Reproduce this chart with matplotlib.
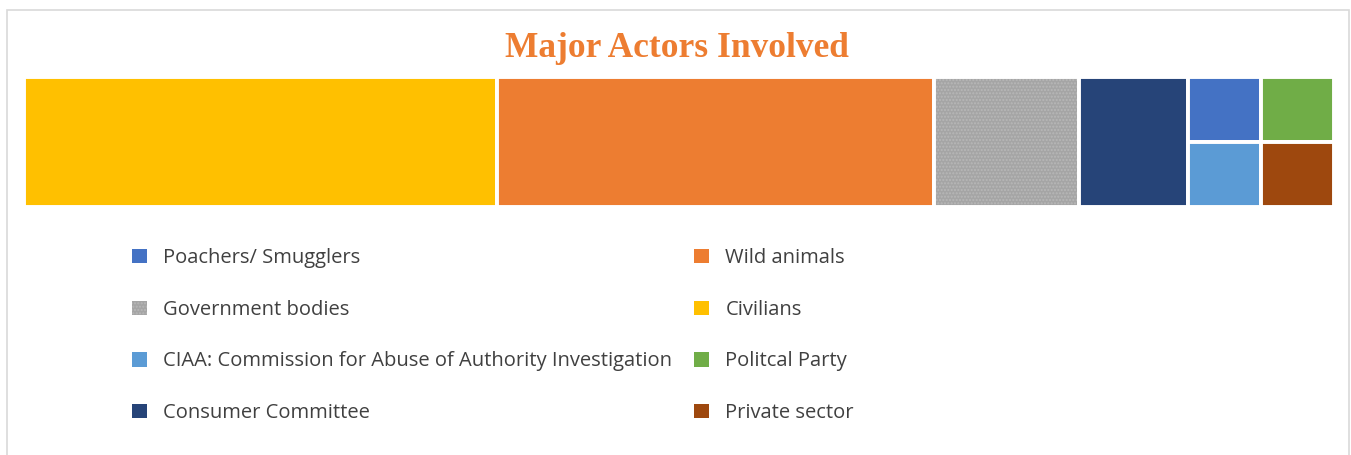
import matplotlib
matplotlib.use('Agg')
import matplotlib.pyplot as plt
from matplotlib.patches import Rectangle, Patch

# Actors and how often each one shows up
actors = ['Poachers/ Smugglers', 'Wild animals', 'Government bodies', 'Civilians',
          'CIAA: Commission for Abuse of Authority Investigation', 'Politcal Party',
          'Consumer Committee', 'Private sector']
counts = [1, 12, 4, 13, 1, 1, 3, 1]
colors = ['#4472C4', '#ED7D31', '#A5A5A5', '#FFC000',
          '#5B9BD5', '#70AD47', '#264478', '#9E480E']
hatches = ['', '', '.....', '', '', '', '', '']


def worst(row, side):
    s = sum(row)
    return max(max(side * side * r / (s * s), (s * s) / (side * side * r)) for r in row)


def squarify(areas, x, y, w, h):
    # squarified treemap (Bruls et al.), rows placed along the shorter side
    rects = []
    areas = list(areas)
    while areas:
        side = min(w, h)
        row = [areas[0]]
        i = 1
        while i < len(areas) and worst(row + [areas[i]], side) <= worst(row, side):
            row.append(areas[i])
            i += 1
        s = sum(row)
        if w >= h:
            cw = s / h
            yy = y
            for a in row:
                rects.append((x, yy, cw, a / cw))
                yy += a / cw
            x += cw
            w -= cw
        else:
            rh = s / w
            xx = x
            for a in row:
                rects.append((xx, y, a / rh, rh))
                xx += a / rh
            y += rh
            h -= rh
        areas = areas[i:]
    return rects


fig = plt.figure(figsize=(13.51, 4.55), dpi=100)

# light frame around the chart area
fig.patches.append(Rectangle((7 / 1351, -0.1), 1342 / 1351, 1.1 - 10 / 455,
                             transform=fig.transFigure, fill=False,
                             edgecolor='#D9D9D9', linewidth=1.2))

fig.text(0.501, 0.893, 'Major Actors Involved', ha='center', va='center',
         fontsize=25.5, fontweight='bold', color='#ED7D31', family='Liberation Serif')

ax = fig.add_axes([24 / 1351, 1 - 207 / 455, 1310 / 1351, 130 / 455])
bbox = ax.get_window_extent()
aspect = bbox.width / bbox.height

order = sorted(range(len(counts)), key=lambda k: -counts[k])
total = sum(counts)
areas = [counts[k] * aspect / total for k in order]
rects = squarify(areas, 0, 0, aspect, 1)

for k, (x, y, w, h) in zip(order, rects):
    ax.add_patch(Rectangle((x, y), w, h, facecolor=colors[k], edgecolor='#B8B8B8',
                           hatch=hatches[k], linewidth=0))
    ax.add_patch(Rectangle((x, y), w, h, fill=False, edgecolor='white', linewidth=2.8))

ax.set_xlim(0, aspect)
ax.set_ylim(1, 0)
ax.axis('off')

# legend reads row by row, matplotlib fills columns first
handles = [Patch(facecolor=colors[k], edgecolor='#B8B8B8', hatch=hatches[k],
                 linewidth=0, label=actors[k]) for k in range(len(actors))]
handles = handles[0::2] + handles[1::2]
fig.legend(handles=handles, loc='upper left', bbox_to_anchor=(114 / 1351, 1 - 230 / 455),
           ncol=2, frameon=False, handlelength=0.72, handleheight=0.72,
           handletextpad=0.82, columnspacing=1.1, labelspacing=1.57,
           prop={'family': 'Open Sans', 'size': 14.5}, labelcolor='#404040')

fig.savefig('out.png', dpi=100, facecolor='white')
